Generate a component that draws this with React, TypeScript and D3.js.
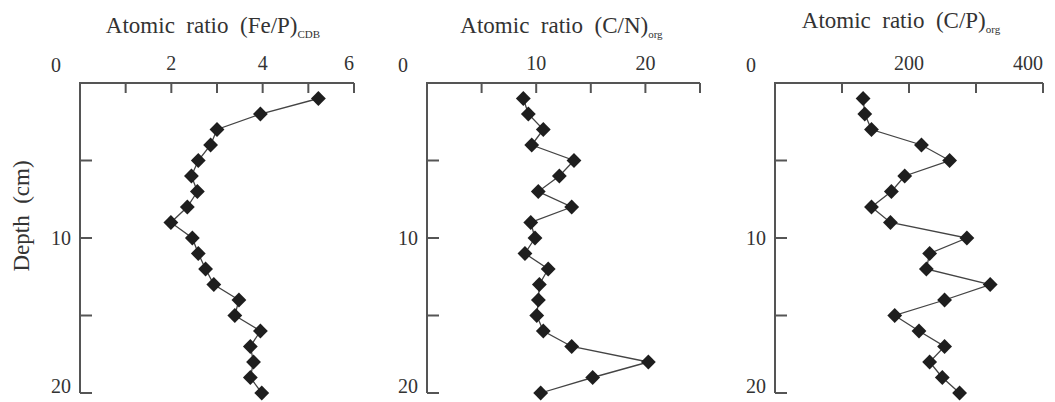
import React from "react";
import * as d3 from "d3";

const depths = [1, 2, 3, 4, 5, 6, 7, 8, 9, 10, 11, 12, 13, 14, 15, 16, 17, 18, 19, 20];
const feP = [5.22, 3.95, 3.0, 2.86, 2.59, 2.44, 2.57, 2.35, 1.99, 2.46, 2.59, 2.75, 2.93, 3.48, 3.39, 3.95, 3.73, 3.8, 3.73, 3.98];
const cN = [8.82, 9.28, 10.65, 9.59, 13.46, 12.12, 10.19, 13.25, 9.5, 9.89, 8.97, 11.1, 10.29, 10.2, 10.05, 10.65, 13.25, 20.27, 15.17, 10.41];
const cP = [131.5, 134, 144, 218.6, 260.6, 193.6, 173.7, 144, 172.3, 286.4, 230.8, 225.9, 321.2, 253.1, 178.7, 214.9, 253.1, 230.8, 249.7, 275.5];

const depthTicks = [5, 10, 15, 20];
const depthLabels = [10, 20];

const panels = [
  { main: "Atomic  ratio  (Fe/P)", sub: "CDB", values: feP, domain: [0, 6], range: [80, 354], ticks: [1, 2, 3, 4, 5, 6], labels: [2, 4, 6], titleY: 33, titleDx: -4 },
  { main: "Atomic  ratio  (C/N)", sub: "org", values: cN, domain: [0, 25], range: [427, 700], ticks: [5, 10, 15, 20, 25], labels: [10, 20], titleY: 33, titleDx: -2 },
  { main: "Atomic  ratio  (C/P)", sub: "org", values: cP, domain: [0, 400], range: [775, 1043], ticks: [100, 200, 300, 400], labels: [200, 400], titleY: 28, titleDx: -8 },
];

const FONT = "'Liberation Serif', 'DejaVu Serif', serif";
const AXIS = "#555";
const TEXT = "#333";

function Panel({ p }: { p: typeof panels[number] }) {
  const x = d3.scaleLinear().domain(p.domain).range(p.range);
  const y = d3.scaleLinear().domain([0, 20]).range([83, 393]);
  const x0 = x(0);
  const y0 = y(0);
  const line = d3
    .line<number>()
    .x((v) => x(v))
    .y((_, i) => y(depths[i]));
  const diamond = d3.symbol(d3.symbolSquare, 110)();
  const maxLabel = p.labels[p.labels.length - 1];
  const cx = (p.range[0] + p.range[1]) / 2 + p.titleDx;
  return (
    <g>
      <text x={cx} y={p.titleY} textAnchor="middle" fontFamily={FONT} fontSize={23} fill={TEXT} style={{ whiteSpace: "pre" }}>
        {p.main}
        <tspan fontSize={11} dy={5}>{p.sub}</tspan>
      </text>
      <path d={`M${x(p.domain[1])},${y0}H${x0}V${y(20)}`} fill="none" stroke={AXIS} strokeWidth={2} />
      {p.ticks.map((t) => (
        <line key={t} x1={x(t)} x2={x(t)} y1={y0} y2={y0 + 10} stroke={AXIS} strokeWidth={2} />
      ))}
      {depthTicks.map((t) => (
        <line key={t} x1={x0} x2={x0 + 12} y1={y(t)} y2={y(t)} stroke={AXIS} strokeWidth={2} />
      ))}
      {p.labels.map((t) => (
        <text key={t} x={x(t)} y={y0 - 13} textAnchor={t === maxLabel && t === p.domain[1] ? "end" : "middle"} fontFamily={FONT} fontSize={20} fill={TEXT}>
          {t}
        </text>
      ))}
      <text x={x0 - 24} y={y0 - 11} textAnchor="middle" fontFamily={FONT} fontSize={20} fill={TEXT}>0</text>
      {depthLabels.map((t) => (
        <text key={t} x={x0 - 9} y={t === 20 ? y(t) : y(t)} dy={t === 20 ? "0" : "0.35em"} textAnchor="end" fontFamily={FONT} fontSize={20} fill={TEXT}>
          {t}
        </text>
      ))}
      <path d={line(p.values) || ""} fill="none" stroke="#444" strokeWidth={1.3} />
      {p.values.map((v, i) => (
        <path key={i} d={diamond || ""} transform={`translate(${x(v)},${y(depths[i])}) rotate(45)`} fill="#1e1e1e" />
      ))}
    </g>
  );
}

export default function App() {
  return (
    <svg width={1055} height={402} style={{ position: "absolute", left: 0, top: 0, background: "#fff" }}>
      <rect width={1055} height={402} fill="#fff" />
      {panels.map((p, i) => (
        <Panel key={i} p={p} />
      ))}
      <text transform="translate(29,216) rotate(-90)" textAnchor="middle" fontFamily={FONT} fontSize={23} fill={TEXT} style={{ whiteSpace: "pre" }}>
        Depth  (cm)
      </text>
    </svg>
  );
}
